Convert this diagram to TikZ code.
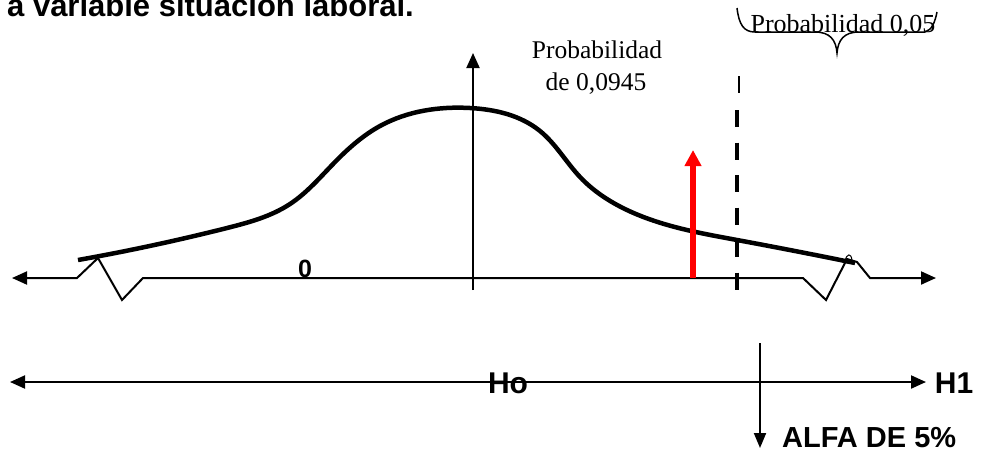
\documentclass[tikz,border=0pt]{standalone}
\usepackage{fontspec}
\setmainfont{Liberation Serif}
\setsansfont{Liberation Sans}
\usetikzlibrary{arrows.meta,hobby}
\begin{document}
\begin{tikzpicture}[x=1pt,y=-1pt,
  axis/.style={line width=2pt},
  uptip/.style={-{Triangle[length=15pt,width=13pt]}},
  bothtips/.style={{Triangle[length=15pt,width=13pt]}-{Triangle[length=15pt,width=13pt]}},
  bell/.style={line width=4.5pt},
  sanslbl/.style={font=\sffamily\bfseries\fontsize{30}{34}\selectfont, inner sep=0pt},
  seriflbl/.style={font=\fontsize{25.5}{30}\selectfont, inner sep=0pt, anchor=base}]
\useasboundingbox (0,0) rectangle (984,451);
\clip (0,0) rectangle (984,451);

% title (cut at the top)
\node[anchor=base east, font=\sffamily\bfseries\fontsize{31}{36}\selectfont, inner sep=0pt] (title) at (414,16.5) {a variable situación laboral.};

% main axis with breaks
\coordinate (La) at (12,278);
\coordinate (Ra) at (936,278);
\draw[axis, bothtips] (La) -- (77,278) -- (98,258) -- (122,300) -- (143,278) -- (803,278) -- (826,300) -- (847,259) -- (857,262) -- (870,278) -- (Ra);
\draw[line width=1pt] (845,261) .. controls (847,253) and (851,253) .. (852,260);

% vertical axis
\coordinate (V0) at (473,290);
\coordinate (V1) at (473,53);
\draw[axis, uptip] (V0) -- (V1);

% bell curve
\draw[bell, use Hobby shortcut] (78,260) .. (227,228) .. (290,204) .. (335,162) .. (380,126) .. (470,108) .. (540,131) .. (580,177) .. (627,210) .. (737,240) .. (855,263);

% red arrow
\coordinate (R0) at (693,278);
\coordinate (R1) at (693,150);
\draw[line width=5.5pt, red, -{Triangle[length=16pt,width=16pt]}] (R0) -- (R1);

% dashed critical line
\draw[line width=2pt] (739,76) -- (739,93);
\draw[line width=4pt, dash pattern=on 17pt off 15.5pt] (737,110) -- (737,290);

% labels
\node[seriflbl] (p1) at (597,58) {Probabilidad};
\node[seriflbl] (p2) at (596,90) {de 0,0945};
\node[anchor=base, font=\fontsize{26}{30}\selectfont, inner sep=0pt] (p05) at (843,32) {Probabilidad 0,05};
\draw[line width=1.5pt] (737,8) .. controls (739,25) and (744,32) .. (755,32) -- (815,32) .. controls (830,32) and (836,40) .. (837,53) .. controls (838,40) and (844,32) .. (859,32) -- (925,32) .. controls (932,30) and (935,22) .. (937,12);
\node[anchor=base, font=\sffamily\bfseries\fontsize{25}{30}\selectfont, inner sep=0pt] (zero) at (305,277) {0};

% bottom decision line
\coordinate (BL) at (10,382);
\coordinate (BR) at (926,382);
\draw[axis, bothtips] (BL) -- (BR);
\node[sanslbl] (ho) at (508,383.5) {Ho};
\node[sanslbl] (h1) at (954,383.5) {H1};
\coordinate (A0) at (760,343);
\coordinate (A1) at (760,448);
\draw[axis, -{Triangle[length=15pt,width=12pt]}] (A0) -- (A1);
\node[sanslbl, anchor=west, font=\sffamily\bfseries\fontsize{29}{34}\selectfont] (alfa) at (782,437.5) {ALFA DE 5\%};
\end{tikzpicture}
\end{document}
